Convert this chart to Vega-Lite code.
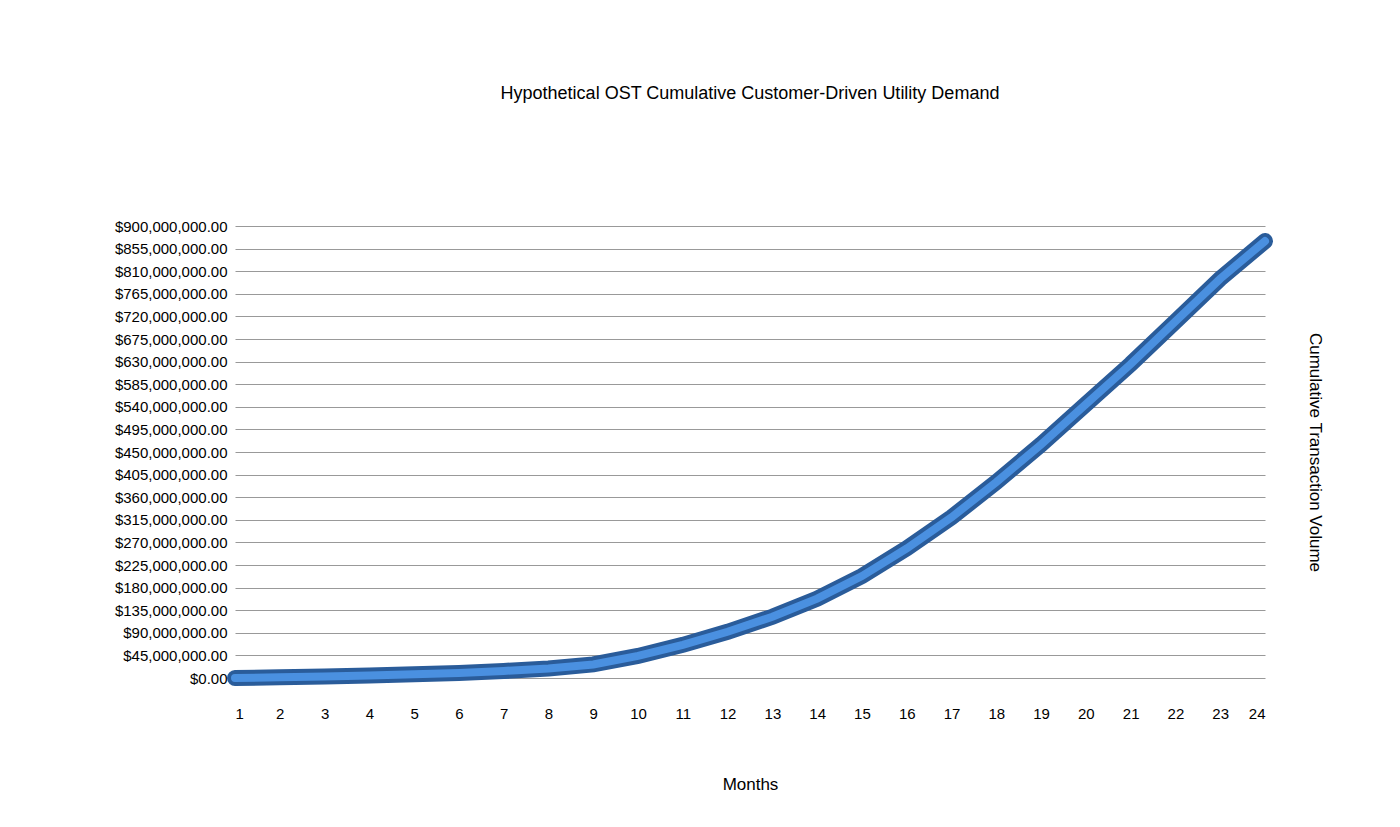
{
  "$schema": "https://vega.github.io/schema/vega-lite/v6.json",
  "width": 1030,
  "height": 452,
  "autosize": "none",
  "padding": {"left": 235, "top": 226, "right": 135, "bottom": 149},
  "background": "white",
  "title": {"text": "Hypothetical OST Cumulative Customer-Driven Utility Demand", "font": "Liberation Sans", "fontSize": 18, "fontWeight": "normal", "offset": 106, "anchor": "middle"},
  "config": {"view": {"stroke": null}, "font": "Liberation Sans"},
  "data": {"values": [
    {"m": 1, "v": 0}, {"m": 2, "v": 1500000}, {"m": 3, "v": 3000000}, {"m": 4, "v": 5000000},
    {"m": 5, "v": 7500000}, {"m": 6, "v": 10000000}, {"m": 7, "v": 14000000}, {"m": 8, "v": 19000000},
    {"m": 9, "v": 27000000}, {"m": 10, "v": 44000000}, {"m": 11, "v": 66000000}, {"m": 12, "v": 92000000},
    {"m": 13, "v": 122000000}, {"m": 14, "v": 158000000}, {"m": 15, "v": 203000000}, {"m": 16, "v": 258000000},
    {"m": 17, "v": 320000000}, {"m": 18, "v": 390000000}, {"m": 19, "v": 465000000}, {"m": 20, "v": 545000000},
    {"m": 21, "v": 625000000}, {"m": 22, "v": 710000000}, {"m": 23, "v": 795000000}, {"m": 24, "v": 870000000}
  ]},
  "encoding": {
    "x": {"field": "m", "type": "quantitative", "scale": {"domain": [1, 24], "nice": false},
      "axis": {"values": [1,2,3,4,5,6,7,8,9,10,11,12,13,14,15,16,17,18,19,20,21,22,23,24], "grid": false, "domain": false, "ticks": false, "labelPadding": 28, "labelFontSize": 15, "labelColor": "#000", "title": "Months", "titleFontSize": 17, "titleFontWeight": "normal", "titlePadding": 55}},
    "y": {"field": "v", "type": "quantitative", "scale": {"domain": [0, 900000000], "nice": false}}
  },
  "layer": [
    {
      "mark": {"type": "line", "stroke": "#2a5c9a", "strokeWidth": 16, "strokeCap": "round"},
      "encoding": {"y": {"field": "v", "type": "quantitative",
        "axis": {"orient": "left", "values": [0,45000000,90000000,135000000,180000000,225000000,270000000,315000000,360000000,405000000,450000000,495000000,540000000,585000000,630000000,675000000,720000000,765000000,810000000,855000000,900000000], "format": "$,.2f", "grid": true, "gridColor": "#999", "domain": false, "ticks": false, "labelFontSize": 15, "labelColor": "#000", "labelPadding": 8, "title": null}}}
    },
    {
      "mark": {"type": "line", "stroke": "#4a90e0", "strokeWidth": 8, "strokeCap": "round"},
      "encoding": {"y": {"field": "v", "type": "quantitative",
        "axis": {"orient": "right", "labels": false, "grid": false, "domain": false, "ticks": false, "title": "Cumulative Transaction Volume", "titleAngle": 90, "titleFontSize": 17, "titleFontWeight": "normal", "titlePadding": 40}}}
    }
  ],
  "resolve": {"axis": {"y": "independent"}}
}
